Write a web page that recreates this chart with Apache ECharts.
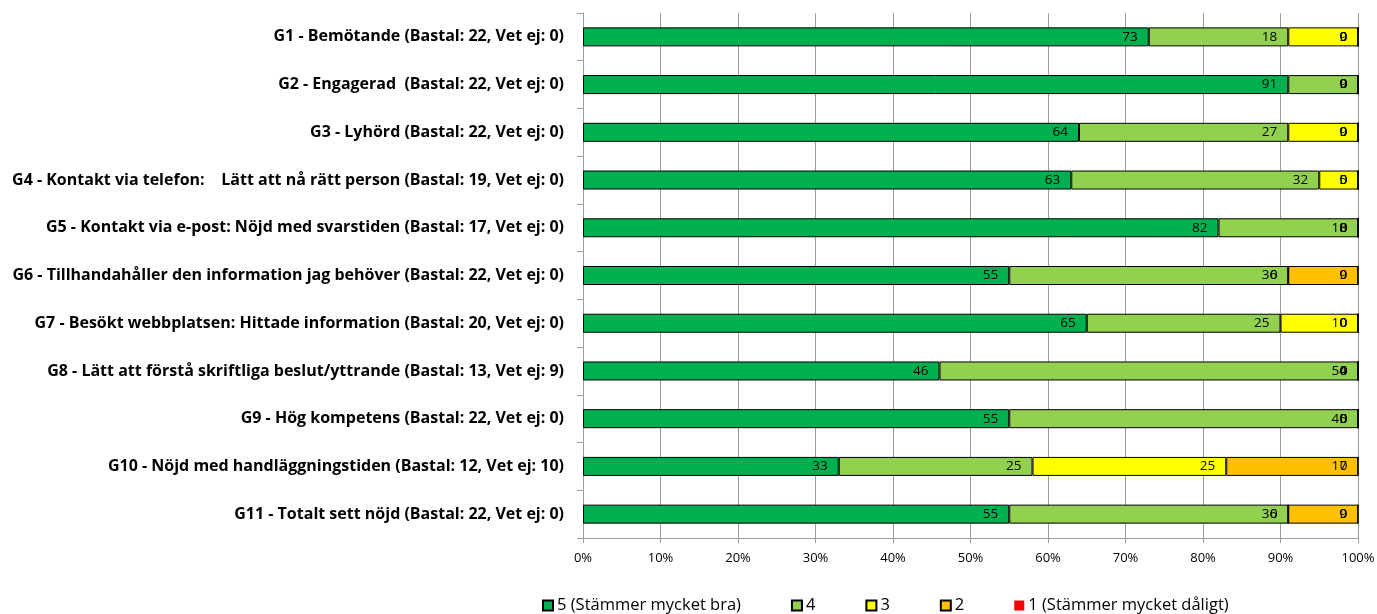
<!DOCTYPE html>
<html><head><meta charset="utf-8">
<script src="https://cdn.jsdelivr.net/npm/echarts@6/dist/echarts.min.js"></script>
<style>html,body{margin:0;padding:0;background:#fff}#c{width:1377px;height:614px}</style>
</head><body><div id="c"></div>
<script>
const categories = [
  'G1 - Bemötande (Bastal: 22, Vet ej: 0)',
  'G2 - Engagerad  (Bastal: 22, Vet ej: 0)',
  'G3 - Lyhörd (Bastal: 22, Vet ej: 0)',
  'G4 - Kontakt via telefon:    Lätt att nå rätt person (Bastal: 19, Vet ej: 0)',
  'G5 - Kontakt via e-post: Nöjd med svarstiden (Bastal: 17, Vet ej: 0)',
  'G6 - Tillhandahåller den information jag behöver (Bastal: 22, Vet ej: 0)',
  'G7 - Besökt webbplatsen: Hittade information (Bastal: 20, Vet ej: 0)',
  'G8 - Lätt att förstå skriftliga beslut/yttrande (Bastal: 13, Vet ej: 9)',
  'G9 - Hög kompetens (Bastal: 22, Vet ej: 0)',
  'G10 - Nöjd med handläggningstiden (Bastal: 12, Vet ej: 10)',
  'G11 - Totalt sett nöjd (Bastal: 22, Vet ej: 0)'
];
const seriesNames = ['5 (Stämmer mycket bra)', '4', '3', '2', '1 (Stämmer mycket dåligt)'];
const s5 = [73, 91, 64, 63, 82, 55, 65, 46, 55, 33, 55];
const s4 = [18, 9, 27, 32, 18, 36, 25, 54, 45, 25, 36];
const s3 = [9, 0, 9, 5, 0, 0, 10, 0, 0, 25, 0];
const s2 = [0, 0, 0, 0, 0, 9, 0, 0, 0, 17, 9];
const s1 = [0, 0, 0, 0, 0, 0, 0, 0, 0, 0, 0];
const xTicks = [0, 10, 20, 30, 40, 50, 60, 70, 80, 90, 100];

const colors = ['#00B050', '#92D050', '#FFFF00', '#FFC000', '#FF0000'];
const FONT = 'Open Sans';
const values = [s5, s4, s3, s2, s1];

const chart = echarts.init(document.getElementById('c'), null, {renderer: 'canvas'});
chart.setOption({
  animation: false,
  color: colors,
  textStyle: {fontFamily: FONT},
  grid: {left: 583, right: 19, top: 13, bottom: 76, containLabel: false, outerBoundsMode: 'none'},
  legend: {
    data: seriesNames.map((n, i) => ({name: n, itemStyle: i === 4 ? {borderWidth: 0} : {}})),
    left: 537, top: 592,
    itemWidth: 10, itemHeight: 10, itemGap: 50,
    textStyle: {fontFamily: FONT, fontSize: 16.5, color: '#000', padding: [0, 0, 0, -1]},
    icon: 'rect'
  },
  xAxis: {
    type: 'value', min: xTicks[0], max: xTicks[xTicks.length - 1], interval: 10,
    axisLabel: {formatter: '{value}%', fontFamily: FONT, fontSize: 13, color: '#000', margin: 14},
    axisLine: {show: true, lineStyle: {color: '#9d9d9d'}},
    axisTick: {show: true, length: 5, lineStyle: {color: '#9d9d9d'}},
    splitLine: {show: true, lineStyle: {color: '#9d9d9d', width: 1}}
  },
  yAxis: {
    type: 'category', data: categories, inverse: true,
    axisLabel: {fontFamily: FONT, fontSize: 16, fontWeight: 'bold', color: '#000', margin: 19},
    axisLine: {show: true, lineStyle: {color: '#9d9d9d'}},
    axisTick: {show: true, length: 6, lineStyle: {color: '#9d9d9d'}}
  },
  series: seriesNames.map((name, i) => ({
    name: name, type: 'bar', stack: 'total', barWidth: 19,
    data: values[i],
    itemStyle: {color: colors[i], borderColor: '#000', borderWidth: 1},
    label: {show: true, position: 'insideRight', distance: 11, color: '#000',
            fontFamily: FONT, fontSize: 13.5}
  }))
});
</script></body></html>
